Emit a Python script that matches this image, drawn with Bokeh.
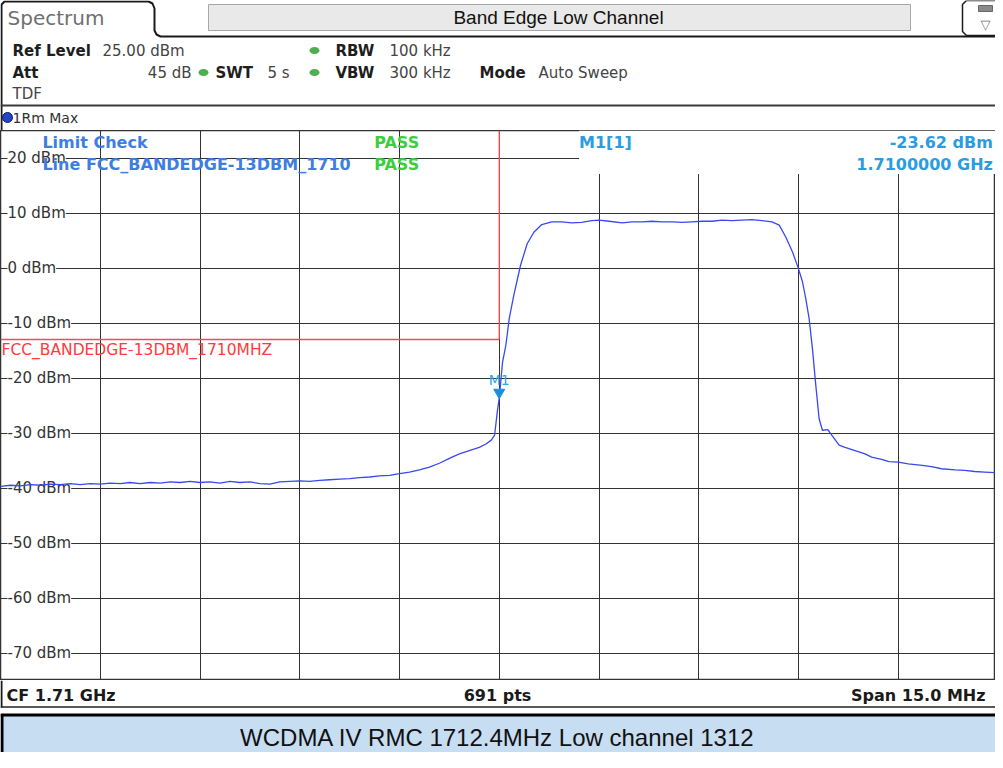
from bokeh.plotting import figure
from bokeh.layouts import column
from bokeh.models import Range1d, Grid, FixedTicker
from bokeh.core.properties import value
from bokeh.embed import file_html
from bokeh.resources import INLINE

# ---------------- data ----------------
trace_freq_mhz = [
    1702.50, 1702.65, 1702.80, 1702.95, 1703.10, 1703.25, 1703.40, 1703.55, 1703.70, 1703.85,
    1704.00, 1704.15, 1704.30, 1704.45, 1704.60, 1704.75, 1704.90, 1705.05, 1705.20, 1705.35,
    1705.50, 1705.65, 1705.80, 1705.95, 1706.10, 1706.25, 1706.40, 1706.55, 1706.70, 1706.85,
    1707.00, 1707.15, 1707.30, 1707.45, 1707.60, 1707.75, 1707.90, 1708.05, 1708.20, 1708.35,
    1708.50, 1708.65, 1708.80, 1708.95, 1709.10, 1709.25, 1709.40, 1709.55, 1709.70, 1709.80,
    1709.88, 1709.93, 1709.97, 1710.00, 1710.05, 1710.10, 1710.15, 1710.22, 1710.32, 1710.42,
    1710.52, 1710.64, 1710.79, 1710.94, 1711.09, 1711.24, 1711.39, 1711.50, 1711.65, 1711.85,
    1712.00, 1712.15, 1712.30, 1712.45, 1712.60, 1712.75, 1712.90, 1713.05, 1713.20, 1713.35,
    1713.50, 1713.65, 1713.80, 1713.95, 1714.10, 1714.21, 1714.31, 1714.41, 1714.49, 1714.56,
    1714.61, 1714.66, 1714.71, 1714.76, 1714.81, 1714.86, 1714.94, 1715.00, 1715.11, 1715.20,
    1715.35, 1715.50, 1715.60, 1715.75, 1715.86, 1716.00, 1716.15, 1716.36, 1716.50, 1716.65,
    1716.86, 1717.00, 1717.15, 1717.30, 1717.45,
]
trace_level_dbm = [
    -39.7, -39.5, -39.6, -39.4, -39.5, -39.3, -39.4, -39.2, -39.4, -39.2,
    -39.3, -39.1, -39.2, -39.0, -39.2, -39.0, -39.1, -38.9, -39.0, -38.8,
    -39.0, -38.9, -39.1, -38.8, -39.0, -38.9, -39.2, -39.3, -38.9, -38.8,
    -38.7, -38.8, -38.6, -38.5, -38.4, -38.3, -38.1, -38.0, -37.8, -37.7,
    -37.4, -37.1, -36.7, -36.2, -35.5, -34.6, -33.8, -33.2, -32.6, -32.0,
    -31.3, -30.4, -26.2, -23.62, -17.1, -14.0, -9.2, -4.9, 0.5, 4.4,
    6.5, 7.9, 8.4, 8.4, 8.2, 8.3, 8.6, 8.7, 8.5, 8.2,
    8.4, 8.4, 8.5, 8.4, 8.4, 8.3, 8.4, 8.5, 8.5, 8.7,
    8.6, 8.7, 8.8, 8.6, 8.4, 7.8, 5.6, 2.9, 0.2, -2.5,
    -5.6, -9.2, -14.7, -21.3, -27.4, -29.5, -29.4, -30.4, -32.2, -32.6,
    -33.2, -33.8, -34.4, -34.8, -35.2, -35.3, -35.6, -35.9, -36.1, -36.5,
    -36.7, -36.8, -37.0, -37.1, -37.2,
]

center_freq_mhz = 1710.0
span_mhz = 15.0
ref_level_dbm = 25.0
bottom_level_dbm = -75.0
y_ticks = [20, 10, 0, -10, -20, -30, -40, -50, -60, -70]
y_tick_labels = ["20 dBm", "10 dBm", "0 dBm", "-10 dBm", "-20 dBm",
                 "-30 dBm", "-40 dBm", "-50 dBm", "-60 dBm", "-70 dBm"]
x_divisions = 10

limit_edge_mhz = 1710.0
limit_level_dbm = -13.0
limit_name = "FCC_BANDEDGE-13DBM_1710MHZ"
limit_check_lines = ["Limit Check", "Line FCC_BANDEDGE-13DBM_1710"]
limit_results = ["PASS", "PASS"]

marker_freq_mhz = 1710.0
marker_level_dbm = -23.62
sweep_points = 691

title = "Band Edge Low Channel"
caption = "WCDMA IV RMC 1712.4MHz Low channel 1312"

# ---------------- layout ----------------
W = 995
PX_PER_DIV = 99.75
start_mhz = center_freq_mhz - span_mhz / 2
div_mhz = span_mhz / x_divisions
x_end = start_mhz + div_mhz * W / PX_PER_DIV
x_grid = [start_mhz + i * div_mhz for i in range(1, x_divisions)]

FONT = value("DejaVu Sans")
ARIAL = value("Liberation Sans")


def txt(p, x, y, s, size="15px", style="normal", color="#222222", align="left", font=FONT):
    p.text(x=[x], y=[y], text=[s], text_font=font, text_font_size=size,
           text_font_style=style, text_color=color, text_align=align,
           text_baseline="middle")


def panel(h):
    p = figure(width=W, height=h, x_range=Range1d(0, W), y_range=Range1d(h, 0),
               x_axis_type=None, y_axis_type=None, output_backend="svg",
               toolbar_location=None, min_border=0, outline_line_color=None)
    return p


# ---------------- header ----------------
hdr = panel(130)
hdr.line([1, 1, 4, 148, 152, 154, 154, 156, 160, W],
         [130, 4, 1, 1, 3, 8, 30, 34, 36, 36], line_color="#1a1a1a", line_width=2)
hdr.quad(left=208, right=910, top=4, bottom=30, fill_color="#e9e9e9", line_color="#a8a8a8")
txt(hdr, 7, 17, "Spectrum", size="20px", color="#707070")
txt(hdr, 558, 17, title, size="19px", color="#111111", align="center", font=ARIAL)
hdr.line([1000, 966, 962, 962, 966, 1000], [0, 0, 4, 31, 35, 35], line_color="#1a1a1a", line_width=1.5)
hdr.quad(left=978, right=992, top=5, bottom=11, fill_color="#8a8a8a", line_color="#666666")
txt(hdr, 985, 24, "▽", size="13px", color="#777777", align="center")

dot_green = "#4caf50"
txt(hdr, 12, 50, "Ref Level", style="bold", color="#1e1e1e")
txt(hdr, 102, 50, f"{ref_level_dbm:.2f} dBm", color="#444444")
hdr.ellipse(x=[314, 203, 314], y=[50, 72, 72], width=10, height=7, fill_color=dot_green, line_color=None)
txt(hdr, 335, 50, "RBW", style="bold", color="#1e1e1e")
txt(hdr, 389, 50, "100 kHz", color="#444444")
txt(hdr, 12, 72, "Att", style="bold", color="#1e1e1e")
txt(hdr, 191, 72, "45 dB", color="#444444", align="right")
txt(hdr, 215, 72, "SWT", style="bold", color="#1e1e1e")
txt(hdr, 267, 72, "5 s", color="#444444")
txt(hdr, 335, 72, "VBW", style="bold", color="#1e1e1e")
txt(hdr, 389, 72, "300 kHz", color="#444444")
txt(hdr, 479, 72, "Mode", style="bold", color="#1e1e1e")
txt(hdr, 538, 72, "Auto Sweep", color="#444444")
txt(hdr, 12, 93, "TDF", color="#444444")
hdr.line([0, W], [105, 105], line_color="#3a3a3a", line_width=2)
hdr.scatter([7], [117], size=10, fill_color="#2244cc", line_color="#111a66")
txt(hdr, 12, 117, "1Rm Max", size="14px", color="#333333")

# ---------------- main spectrum ----------------
main = figure(width=W, height=550, x_range=Range1d(start_mhz, x_end),
              y_range=Range1d(bottom_level_dbm, ref_level_dbm),
              x_axis_type=None, y_axis_type=None, output_backend="svg",
              toolbar_location=None, min_border=0,
              outline_line_color="#333333", outline_line_width=1.5)
main.add_layout(Grid(dimension=0, ticker=FixedTicker(ticks=x_grid),
                     grid_line_color="#333333", grid_line_width=1))
main.add_layout(Grid(dimension=1, ticker=FixedTicker(ticks=y_ticks),
                     grid_line_color="#333333", grid_line_width=1))

# marker info area (blank over grid)
info_left = marker_freq_mhz + 1.2
main.quad(left=info_left, right=x_end, bottom=17.1, top=ref_level_dbm,
          fill_color="white", line_color=None)

main.text(x=[start_mhz + 0.105] * len(y_ticks), y=y_ticks, text=y_tick_labels,
          text_font=FONT, text_font_size="15px", text_color="#333333",
          text_align="left", text_baseline="middle", background_fill_color="white")

# limit line
main.line([start_mhz, limit_edge_mhz, limit_edge_mhz],
          [limit_level_dbm, limit_level_dbm, ref_level_dbm],
          line_color="#ff4a4a", line_width=1.3)
txt(main, start_mhz + 0.015, limit_level_dbm - 1.9, limit_name, size="15.5px", color="#ff3b3b")

# limit check texts
lc_x = start_mhz + 0.63
pass_x = start_mhz + 5.62
for s, r, yv in zip(limit_check_lines, limit_results, [22.9, 18.9]):
    txt(main, lc_x, yv, s, size="16px", style="bold", color="#3d7ee0")
    txt(main, pass_x, yv, r, size="16px", style="bold", color="#3ccf3c")

# trace
main.line(trace_freq_mhz, trace_level_dbm, line_color="#3a48f0", line_width=1.3)

# marker
main.scatter([marker_freq_mhz], [marker_level_dbm + 1.0], marker="inverted_triangle",
             size=11, fill_color="#1a8fe0", line_color="#1a8fe0")
txt(main, marker_freq_mhz, marker_level_dbm + 3.3, "M1", size="14px",
    color="#30a8e8", align="center")
txt(main, info_left, 22.9, "M1[1]", size="16px", style="bold", color="#2a9de0")
txt(main, x_end - 0.04, 22.9, f"{marker_level_dbm:.2f} dBm", size="16px", style="bold",
    color="#2a9de0", align="right")
txt(main, x_end - 0.04, 18.9, f"{marker_freq_mhz / 1000:.7f} GHz", size="16px", style="bold",
    color="#2a9de0", align="right")

# ---------------- footer ----------------
ftr = panel(72)
ftr.line([1, 1], [0, 27], line_color="#1a1a1a", line_width=2)
txt(ftr, 6, 15, f"CF {center_freq_mhz / 1000:.2f} GHz", size="16px", style="bold", color="#1a1a1a")
txt(ftr, 497, 15, f"{sweep_points} pts", size="16px", style="bold", color="#1a1a1a", align="center")
txt(ftr, 985, 15, f"Span {span_mhz:.1f} MHz", size="16px", style="bold", color="#1a1a1a", align="right")
ftr.line([0, W], [26.5, 26.5], line_color="#222222", line_width=1.5)
ftr.quad(left=0, right=W, top=34, bottom=72, fill_color="#c7ddf1", line_color=None)
ftr.line([0, W], [34.5, 34.5], line_color="#000000", line_width=3)
ftr.line([1.5, 1.5], [34, 72], line_color="#000000", line_width=3)
txt(ftr, 497, 57, caption, size="24px", color="#111111", align="center", font=ARIAL)

layout = column(hdr, main, ftr, spacing=0)
open("out.html", "w").write(file_html(layout, INLINE))
